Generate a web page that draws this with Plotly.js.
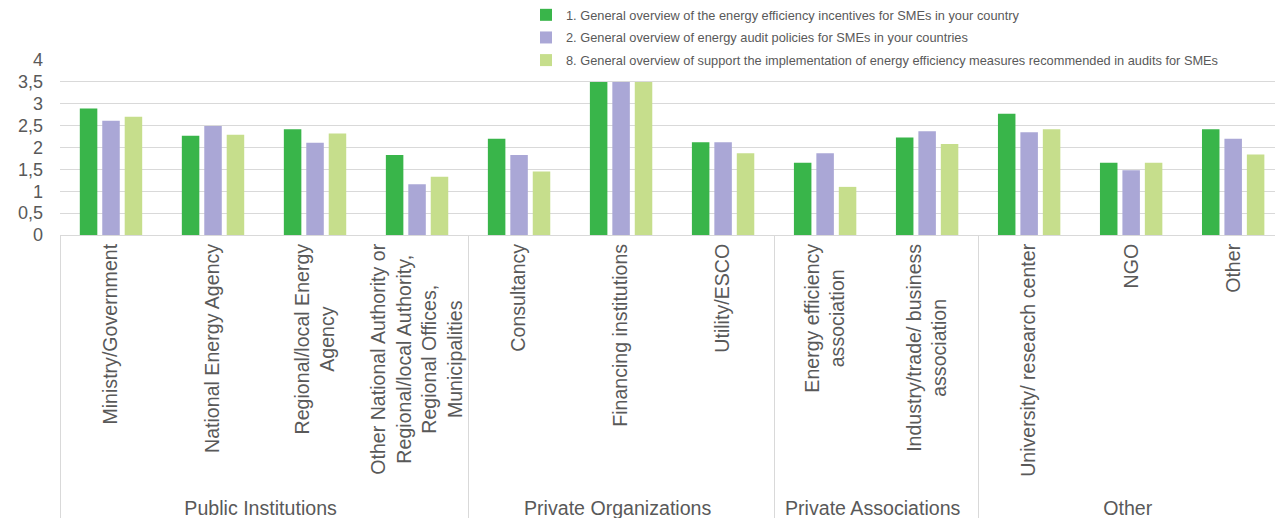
<!DOCTYPE html>
<html>
<head>
<meta charset="utf-8">
<script src="https://cdn.plot.ly/plotly-3.0.1.min.js"></script>
<style>
html, body { margin: 0; padding: 0; background: #fff; overflow: hidden; }
#chart { width: 1275px; height: 518px; }
</style>
</head>
<body>
<div id="chart"></div>
<script>
// Group (outer level) for each category
const groups = [
  "Public Institutions", "Public Institutions", "Public Institutions", "Public Institutions",
  "Private Organizations", "Private Organizations", "Private Organizations",
  "Private Associations", "Private Associations",
  "Other", "Other", "Other"
];
// Categories (inner level)
const categories = [
  "Ministry/Government",
  "National Energy Agency",
  "Regional/local Energy<br>Agency",
  "Other National Authority or<br>Regional/local Authority,<br>Regional Offices,<br>Municipalities",
  "Consultancy",
  "Financing institutions",
  "Utility/ESCO",
  "Energy efficiency<br>association",
  "Industry/trade/ business<br>association",
  "University/ research center",
  "NGO",
  "Other"
];
// Series names
const seriesNames = [
  "1. General overview of the energy efficiency incentives for SMEs in your country",
  "2. General overview of energy audit policies for SMEs in your countries",
  "8. General overview of support the implementation of energy efficiency measures recommended in audits for SMEs"
];
// Series values
const incentives = [2.89, 2.27, 2.42, 1.83, 2.20, 3.5, 2.12, 1.65, 2.23, 2.77, 1.65, 2.42];
const auditPolicies = [2.61, 2.49, 2.11, 1.16, 1.83, 3.5, 2.12, 1.87, 2.37, 2.35, 1.48, 2.20];
const implementation = [2.70, 2.29, 2.32, 1.33, 1.45, 3.5, 1.87, 1.10, 2.08, 2.42, 1.65, 1.84];
// Y tick values
const yTicks = [0, 0.5, 1, 1.5, 2, 2.5, 3, 3.5, 4];

const colors = ["#39b54a", "#aaa7d6", "#c6de8c"];
const seriesValues = [incentives, auditPolicies, implementation];

const traces = seriesValues.map((vals, i) => ({
  type: "bar",
  name: seriesNames[i],
  x: [groups, categories],
  y: vals,
  marker: { color: colors[i] },
  legendgroup: "g" + i,
  hoverinfo: "y+name"
}));

const font = "Arial, 'Liberation Sans', sans-serif";

const layout = {
  width: 1275,
  height: 518,
  margin: { l: 60, r: 0, t: 59, b: 283 },
  paper_bgcolor: "#ffffff",
  plot_bgcolor: "#ffffff",
  separators: ", ",
  barmode: "group",
  bargap: 0.34,
  bargroupgap: 0.22,
  font: { family: font, color: "#595959" },
  showlegend: true,
  legend: {
    x: (526 - 60) / 1215,
    xanchor: "left",
    y: 1.34,
    yanchor: "top",
    bgcolor: "#ffffff",
    font: { family: font, size: 12.8, color: "#595959" },
    traceorder: "grouped",
    tracegroupgap: 3
  },
  xaxis: {
    type: "multicategory",
    range: [-0.5, 11.41],
    tickangle: -90,
    tickfont: { family: font, size: 19.6, color: "#595959" },
    showgrid: false,
    showline: true,
    linecolor: "#d9d9d9",
    linewidth: 1,
    ticks: "",
    showdividers: true,
    dividercolor: "#d9d9d9",
    dividerwidth: 1,
    fixedrange: true
  },
  yaxis: {
    range: [0, 4],
    tickvals: yTicks,
    tickfont: { family: font, size: 18, color: "#595959" },
    showgrid: true,
    gridcolor: "#d9d9d9",
    gridwidth: 1,
    zeroline: false,
    showline: false,
    ticks: "",
    ticklabelstandoff: 16,
    fixedrange: true
  }
};

// Center the lines of multi-line rotated category labels (as in the original)
function centerMultilineLabels() {
  document.querySelectorAll("#chart .xaxislayer-above text").forEach(t => {
    const lines = t.querySelectorAll("tspan.line");
    if (lines.length < 2) return;
    if (t.getAttribute("text-anchor") !== "end") return;
    let maxW = 0;
    lines.forEach(l => { maxW = Math.max(maxW, l.getComputedTextLength()); });
    const x0 = parseFloat(t.getAttribute("x")) || 0;
    const nx = x0 - maxW / 2;
    t.setAttribute("text-anchor", "middle");
    t.setAttribute("x", nx);
    lines.forEach(l => l.setAttribute("x", nx));
  });
}

Plotly.newPlot("chart", traces, layout, { displayModeBar: false, staticPlot: true })
  .then(centerMultilineLabels);
</script>
</body>
</html>
